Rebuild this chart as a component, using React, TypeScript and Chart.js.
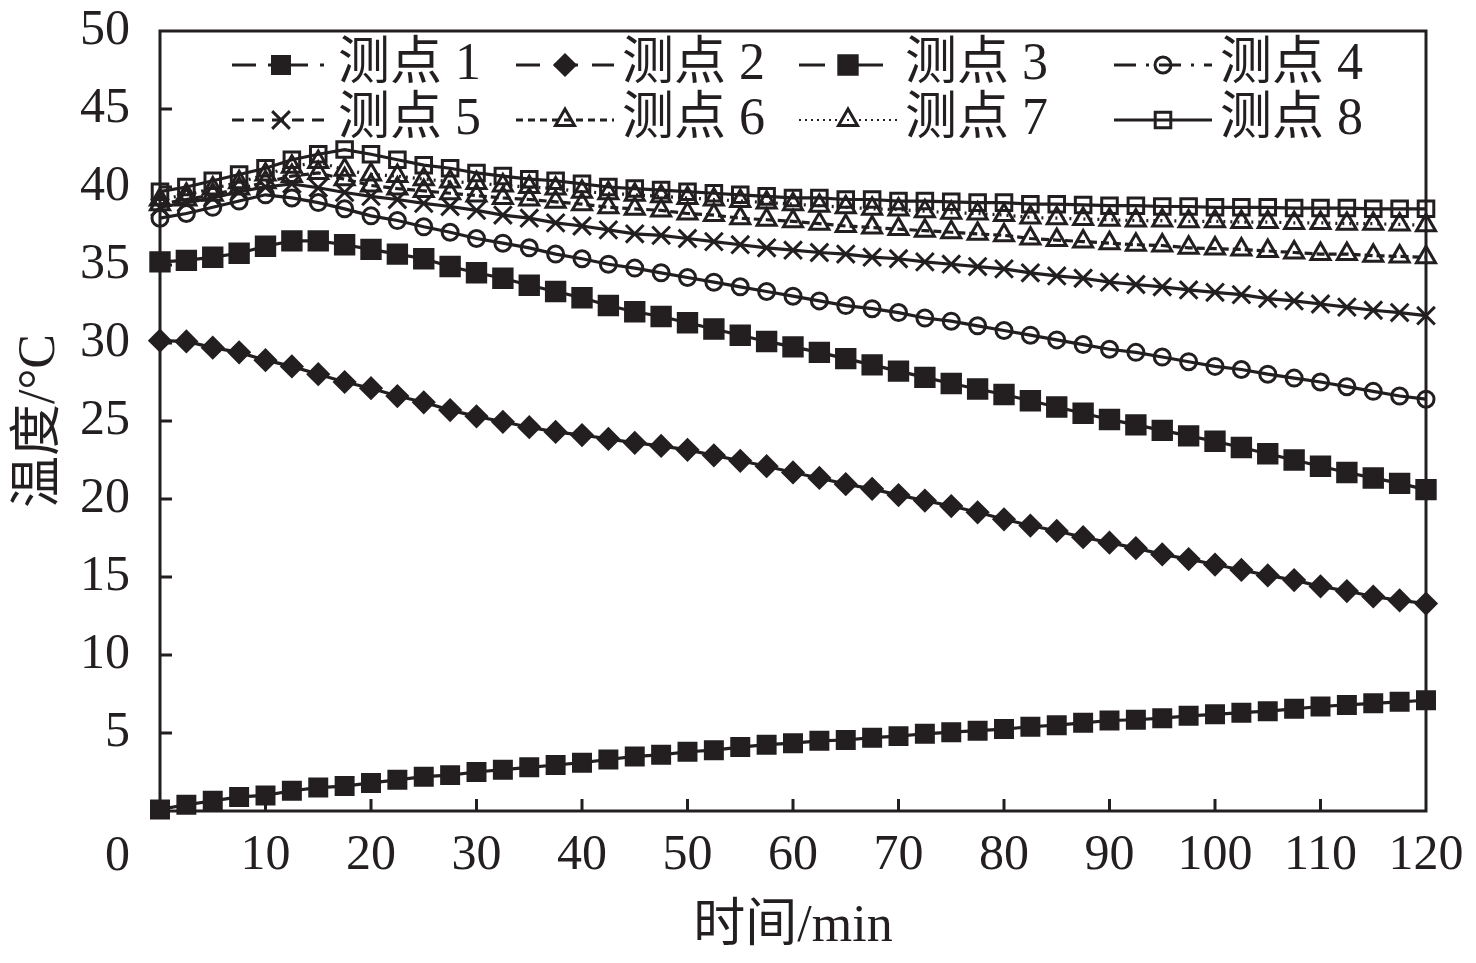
import { useEffect, useRef } from "react";
import { Chart, registerables } from "chart.js";
import { drawPoint } from "chart.js/helpers";

Chart.register(...registerables);

const INK = "#231f20";
const FONT = "'Liberation Serif', 'Noto Sans CJK SC', serif";

// time (min), one reading every 2.5 min
const TIME = [
  0, 2.5, 5, 7.5, 10, 12.5, 15, 17.5, 20, 22.5, 25, 27.5, 30, 32.5, 35, 37.5,
  40, 42.5, 45, 47.5, 50, 52.5, 55, 57.5, 60, 62.5, 65, 67.5, 70, 72.5, 75,
  77.5, 80, 82.5, 85, 87.5, 90, 92.5, 95, 97.5, 100, 102.5, 105, 107.5, 110,
  112.5, 115, 117.5, 120,
];

const P1 = [
  0.1, 0.4, 0.65, 0.9, 1.0, 1.3, 1.5, 1.6, 1.8, 2.0, 2.2, 2.3, 2.5, 2.65, 2.8,
  2.95, 3.1, 3.3, 3.5, 3.6, 3.8, 3.9, 4.1, 4.25, 4.35, 4.5, 4.55, 4.7, 4.8,
  4.95, 5.05, 5.15, 5.25, 5.4, 5.5, 5.65, 5.8, 5.85, 5.95, 6.1, 6.2, 6.3, 6.4,
  6.55, 6.7, 6.8, 6.9, 7.0, 7.1,
];
const P2 = [
  30.15, 30.1, 29.7, 29.4, 28.9, 28.5, 28.0, 27.5, 27.1, 26.6, 26.2, 25.7,
  25.3, 24.95, 24.6, 24.3, 24.1, 23.85, 23.6, 23.4, 23.15, 22.8, 22.45, 22.1,
  21.7, 21.35, 20.95, 20.65, 20.25, 19.9, 19.55, 19.15, 18.7, 18.3, 17.95,
  17.55, 17.2, 16.85, 16.45, 16.15, 15.8, 15.45, 15.1, 14.8, 14.4, 14.1, 13.75,
  13.5, 13.3,
];
const P3 = [
  35.2, 35.3, 35.5, 35.75, 36.2, 36.55, 36.55, 36.3, 36.0, 35.7, 35.4, 34.9,
  34.5, 34.15, 33.7, 33.3, 32.9, 32.4, 32.0, 31.7, 31.3, 30.9, 30.5, 30.1,
  29.75, 29.4, 29.0, 28.6, 28.2, 27.8, 27.4, 27.05, 26.7, 26.3, 25.9, 25.5,
  25.1, 24.75, 24.4, 24.05, 23.7, 23.3, 22.9, 22.5, 22.1, 21.7, 21.35, 21.0,
  20.6,
];
const P4 = [
  38.0, 38.3, 38.7, 39.1, 39.5, 39.3, 39.0, 38.6, 38.15, 37.85, 37.45, 37.1,
  36.7, 36.4, 36.1, 35.7, 35.4, 35.05, 34.8, 34.5, 34.2, 33.9, 33.6, 33.3, 33.0,
  32.7, 32.4, 32.2, 31.95, 31.6, 31.4, 31.1, 30.8, 30.5, 30.2, 29.9, 29.6, 29.4,
  29.1, 28.8, 28.5, 28.3, 28.0, 27.75, 27.5, 27.2, 26.9, 26.6, 26.4,
];
const P5 = [
  38.7, 39.0, 39.3, 39.7, 40.0, 40.2, 39.95, 39.65, 39.4, 39.2, 38.95, 38.75,
  38.5, 38.2, 38.0, 37.7, 37.5, 37.25, 37.0, 36.9, 36.7, 36.5, 36.3, 36.1,
  35.95, 35.8, 35.7, 35.5, 35.4, 35.2, 35.05, 34.9, 34.75, 34.5, 34.3, 34.15,
  33.9, 33.75, 33.6, 33.4, 33.25, 33.1, 32.85, 32.7, 32.5, 32.3, 32.1, 31.95,
  31.75,
];
const P6 = [
  38.9, 39.2, 39.5, 39.9, 40.3, 40.7, 40.9, 40.5, 40.1, 39.9, 39.75, 39.6,
  39.45, 39.3, 39.2, 39.05, 38.9, 38.7, 38.6, 38.5, 38.3, 38.2, 38.0, 37.9,
  37.8, 37.65, 37.5, 37.4, 37.3, 37.2, 37.1, 37.0, 36.9, 36.7, 36.6, 36.5, 36.4,
  36.3, 36.25, 36.1, 36.05, 36.0, 35.9, 35.8, 35.7, 35.7, 35.6, 35.55, 35.5,
];
const P7 = [
  39.2, 39.5, 39.9, 40.3, 40.8, 41.3, 41.6, 41.1, 40.8, 40.7, 40.5, 40.35,
  40.25, 40.1, 40.0, 39.9, 39.7, 39.6, 39.5, 39.4, 39.3, 39.2, 39.1, 39.0, 38.9,
  38.8, 38.7, 38.6, 38.55, 38.45, 38.35, 38.3, 38.2, 38.05, 38.0, 37.95, 37.9,
  37.85, 37.85, 37.8, 37.8, 37.75, 37.75, 37.7, 37.7, 37.65, 37.65, 37.6, 37.55,
];
const P8 = [
  39.7, 40.0, 40.4, 40.8, 41.2, 41.75, 42.1, 42.4, 42.1, 41.75, 41.4, 41.2,
  40.9, 40.7, 40.5, 40.4, 40.2, 40.0, 39.9, 39.8, 39.7, 39.6, 39.5, 39.4, 39.3,
  39.3, 39.2, 39.2, 39.1, 39.1, 39.05, 39.0, 39.0, 38.9, 38.9, 38.85, 38.8,
  38.8, 38.75, 38.75, 38.7, 38.7, 38.7, 38.65, 38.65, 38.65, 38.6, 38.6, 38.6,
];

const SERIES_NAMES = ["测点 1", "测点 2", "测点 3", "测点 4", "测点 5", "测点 6", "测点 7", "测点 8"];
const SERIES = [P1, P2, P3, P4, P5, P6, P7, P8];

// marker / line style per series
const STYLES = [
  { pointStyle: "rect", radius: 12, fill: true, dash: [], legendDash: [24, 12, 4, 12] },
  { pointStyle: "rectRot", radius: 10, fill: true, dash: [], legendDash: [24, 14] },
  { pointStyle: "rect", radius: 13, fill: true, dash: [], legendDash: [26, 14, 4, 14] },
  { pointStyle: "circle", radius: 8, fill: false, dash: [], legendDash: [22, 10, 3, 10] },
  { pointStyle: "crossRot", radius: 12.5, fill: false, dash: [], legendDash: [12, 8] },
  { pointStyle: "triangle", radius: 11, fill: false, dash: [8, 4], legendDash: [7, 5] },
  { pointStyle: "triangle", radius: 11, fill: false, dash: [2, 5], legendDash: [2, 4] },
  { pointStyle: "rect", radius: 11, fill: false, dash: [], legendDash: [] },
];

const LEGEND_TEXT_X = [178, 462, 745, 1060];
const LEGEND_ROW_Y = [34, 89];

const frame = {
  id: "frame",
  beforeDatasetsDraw(chart: any) {
    const { ctx, chartArea: a, scales } = chart;
    ctx.save();
    ctx.strokeStyle = INK;
    ctx.lineWidth = 3;
    ctx.strokeRect(a.left, a.top, a.right - a.left, a.bottom - a.top);
    ctx.beginPath();
    scales.y.ticks.forEach((t: any) => {
      if (t.value <= 0 || t.value >= 50) return;
      const py = scales.y.getPixelForValue(t.value);
      ctx.moveTo(a.left, py);
      ctx.lineTo(a.left + 12, py);
    });
    scales.x.ticks.forEach((t: any) => {
      if (t.value <= 0 || t.value >= 120) return;
      const px = scales.x.getPixelForValue(t.value);
      ctx.moveTo(px, a.bottom);
      ctx.lineTo(px, a.bottom - 12);
    });
    ctx.stroke();
    // shared zero at the corner
    ctx.fillStyle = INK;
    ctx.font = `50px ${FONT}`;
    ctx.textAlign = "right";
    ctx.textBaseline = "middle";
    ctx.fillText("0", a.left - 30, a.bottom + 46);
    ctx.restore();
  },
};

const innerLegend = {
  id: "innerLegend",
  afterDatasetsDraw(chart: any) {
    const { ctx, chartArea: a } = chart;
    ctx.save();
    chart.data.datasets.forEach((ds: any, i: number) => {
      const textX = a.left + LEGEND_TEXT_X[i % 4];
      const y = a.top + LEGEND_ROW_Y[Math.floor(i / 4)];
      ctx.strokeStyle = INK;
      ctx.lineWidth = ds.legendDash.length === 2 && ds.legendDash[0] < 3 ? 2 : 3;
      ctx.setLineDash(ds.legendDash);
      ctx.beginPath();
      ctx.moveTo(textX - 106, y);
      ctx.lineTo(textX - 8, y);
      ctx.stroke();
      ctx.setLineDash([]);
      ctx.fillStyle = ds.pointBackgroundColor;
      ctx.lineWidth = ds.pointBorderWidth;
      drawPoint(
        ctx,
        { pointStyle: ds.pointStyle, radius: ds.pointRadius, rotation: 0, borderWidth: ds.pointBorderWidth },
        textX - 57,
        y
      );
      ctx.fillStyle = INK;
      ctx.font = `52px ${FONT}`;
      ctx.textAlign = "left";
      ctx.textBaseline = "middle";
      ctx.fillText(ds.label, textX, y);
    });
    ctx.restore();
  },
};

const TemperatureChart = () => {
  const canvasRef = useRef<HTMLCanvasElement>(null);

  useEffect(() => {
    const datasets = SERIES.map((values, i) => {
      const s = STYLES[i];
      return {
        label: SERIES_NAMES[i],
        data: TIME.map((t, j) => ({ x: t, y: values[j] })),
        borderColor: INK,
        borderWidth: 3.2,
        borderDash: s.dash,
        legendDash: s.legendDash,
        pointStyle: s.pointStyle,
        pointRadius: s.radius,
        pointBorderColor: INK,
        pointBorderWidth: 3,
        pointBackgroundColor: s.fill ? INK : "rgba(0,0,0,0)",
        tension: 0,
        clip: false,
      };
    });

    const tickFont = { family: FONT, size: 50 };
    const titleFont = { family: FONT, size: 52 };

    const chart = new Chart(canvasRef.current as HTMLCanvasElement, {
      type: "line",
      data: { datasets } as any,
      options: {
        animation: false,
        responsive: true,
        maintainAspectRatio: false,
        layout: { padding: { top: 31, right: 50, left: 0, bottom: 0 } },
        plugins: {
          legend: { display: false },
          tooltip: { enabled: false },
        },
        scales: {
          x: {
            type: "linear",
            min: 0,
            max: 120,
            grid: { display: false, drawTicks: false },
            border: { display: false },
            ticks: {
              stepSize: 10,
              autoSkip: false,
              maxRotation: 0,
              padding: 15,
              color: INK,
              font: tickFont,
              callback: (v: any) => (v === 0 ? "" : String(v)),
            },
            title: {
              display: true,
              text: "时间/min",
              color: INK,
              font: titleFont,
              padding: { top: 0, bottom: 4 },
            },
            afterFit: (scale: any) => {
              scale.height = 152;
              scale.paddingLeft = 0;
              scale.paddingRight = 0;
            },
          },
          y: {
            type: "linear",
            min: 0,
            max: 50,
            grid: { display: false, drawTicks: false },
            border: { display: false },
            ticks: {
              stepSize: 5,
              padding: 30,
              color: INK,
              font: tickFont,
              callback: (v: any) => (v === 0 ? "" : String(v)),
            },
            title: {
              display: true,
              text: "温度/°C",
              color: INK,
              font: titleFont,
              padding: { top: 9, bottom: 0 },
            },
            afterFit: (scale: any) => {
              scale.width = 160;
              scale.paddingTop = 0;
              scale.paddingBottom = 0;
            },
          },
        },
      } as any,
      plugins: [frame, innerLegend],
    });

    return () => chart.destroy();
  }, []);

  return (
    <div style={{ position: "absolute", left: 0, top: 0, width: 1476, height: 963, background: "#fff" }}>
      <canvas ref={canvasRef} />
    </div>
  );
};

export default function App() {
  return <TemperatureChart />;
}
